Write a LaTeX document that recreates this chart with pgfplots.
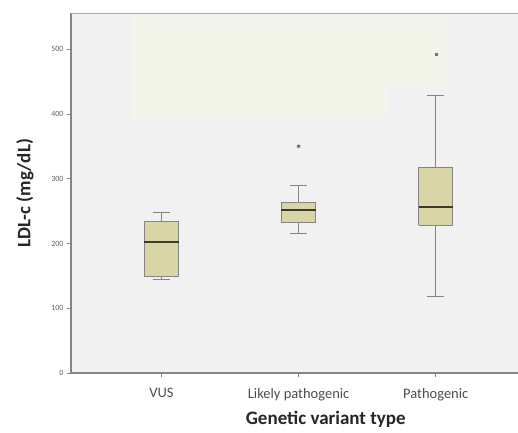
\documentclass[border=0pt]{standalone}
\usepackage{fontspec}
\setmainfont{Carlito}
\usepackage{pgfplots}
\pgfplotsset{compat=1.18}
\definecolor{bgc}{HTML}{F1F1F1}
\definecolor{paleb}{HTML}{F3F5EA}
\definecolor{boxc}{HTML}{D9D5A6}
\definecolor{linec}{HTML}{858585}
\definecolor{medc}{HTML}{3B3A2C}
\begin{document}
\begin{tikzpicture}
\useasboundingbox (-71pt,-59pt) rectangle (447pt,373pt);
\begin{axis}[
  at={(0,0)}, anchor=south west,
  scale only axis, width=447pt, height=360pt,
  xmin=0.34, xmax=3.6, ymin=0, ymax=556,
  axis background/.style={fill=bgc},
  axis lines*=left,
  axis line style={draw=linec, line width=1.3pt},
  xtick={1,2,3}, xticklabels={VUS, Likely pathogenic, Pathogenic},
  ytick={0,100,200,300,400,500},
  tick align=outside, major tick length=4pt,
  tick style={draw=linec, line width=0.7pt},
  /pgf/number format/assume math mode=true,
  yticklabel style={font=\fontsize{8}{9}\selectfont, text=gray!75!black},
  xticklabel style={font=\fontsize{14.5}{16}\selectfont, text=black!70, yshift=-8pt},
  every axis y label/.style={at={(rel axis cs:0,0.5)}, xshift=-46pt, rotate=90, anchor=center, font=\bfseries\fontsize{19}{21}\selectfont, text=black!85},
  every axis x label/.style={at={(rel axis cs:0.57,0)}, yshift=-46pt, anchor=center, font=\bfseries\fontsize{19}{21}\selectfont, text=black!85},
  ylabel={LDL-c (mg/dL)},
  xlabel={Genetic variant type},
  clip=false,
]
% faint shaded region
\addplot[fill=paleb, draw=none] coordinates {(0.78,549) (3.08,549) (3.08,442) (2.64,442) (2.64,393) (0.78,393) (0.78,549)};
\draw[linec!70, line width=0.7pt] (rel axis cs:0,1) -- (rel axis cs:1,1);
% ---- VUS: LW 145, Q1 149, M 203, Q3 234, UW 248
\addplot[draw=linec, line width=1.1pt] coordinates {(1,234) (1,248)};
\addplot[draw=linec, line width=1.1pt] coordinates {(0.9375,248) (1.0625,248)};
\addplot[draw=linec, line width=1.1pt] coordinates {(1,149) (1,145)};
\addplot[draw=linec, line width=1.1pt] coordinates {(0.9375,145) (1.0625,145)};
\addplot[fill=boxc, draw=linec, line width=1pt] coordinates {(0.875,149) (1.125,149) (1.125,234) (0.875,234) (0.875,149)};
\addplot[draw=medc, line width=2pt] coordinates {(0.875,203) (1.125,203)};
% ---- Likely pathogenic: LW 216, Q1 232, M 252, Q3 264, UW 289, outlier 350
\addplot[draw=linec, line width=1.1pt] coordinates {(2,264) (2,289)};
\addplot[draw=linec, line width=1.1pt] coordinates {(1.9375,289) (2.0625,289)};
\addplot[draw=linec, line width=1.1pt] coordinates {(2,232) (2,216)};
\addplot[draw=linec, line width=1.1pt] coordinates {(1.9375,216) (2.0625,216)};
\addplot[fill=boxc, draw=linec, line width=1pt] coordinates {(1.875,232) (2.125,232) (2.125,264) (1.875,264) (1.875,232)};
\addplot[draw=medc, line width=2pt] coordinates {(1.875,252) (2.125,252)};
\addplot[only marks, mark=asterisk, mark size=2pt, mark options={draw=black!70, line width=0.6pt}] coordinates {(2,350)};
% ---- Pathogenic: LW 118, Q1 228, M 256, Q3 318, UW 429, outlier 492
\addplot[draw=linec, line width=1.1pt] coordinates {(3,318) (3,429)};
\addplot[draw=linec, line width=1.1pt] coordinates {(2.9375,429) (3.0625,429)};
\addplot[draw=linec, line width=1.1pt] coordinates {(3,228) (3,118)};
\addplot[draw=linec, line width=1.1pt] coordinates {(2.9375,118) (3.0625,118)};
\addplot[fill=boxc, draw=linec, line width=1pt] coordinates {(2.875,228) (3.125,228) (3.125,318) (2.875,318) (2.875,228)};
\addplot[draw=medc, line width=2pt] coordinates {(2.875,256) (3.125,256)};
\addplot[only marks, mark=square*, mark size=1pt, mark options={draw=black!55, fill=black!55}] coordinates {(3,492)};
\end{axis}
\end{tikzpicture}
\end{document}
